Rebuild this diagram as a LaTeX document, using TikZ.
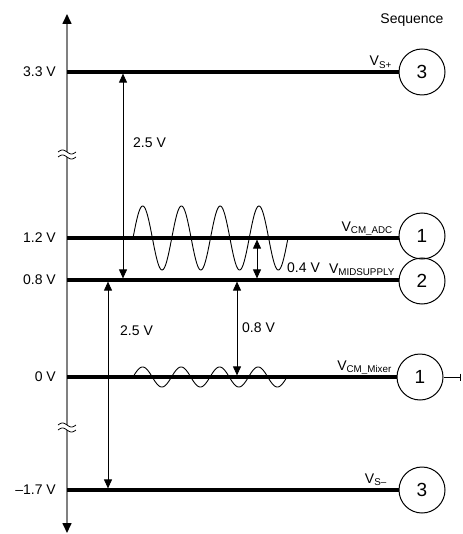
\documentclass[tikz,border=0pt]{standalone}
\usepackage{fontspec}
\setmainfont{Liberation Sans}
\usetikzlibrary{arrows.meta}
\begin{document}
\begin{tikzpicture}[x=1pt,y=-1pt,
  lvl/.style={line width=3.5pt},
  axisline/.style={draw=gray,line width=1.6pt},
  dim/.style={line width=0.9pt,shorten <=1.6pt,shorten >=1.6pt,
    {Triangle[length=9pt,width=8pt]}-{Triangle[length=9pt,width=8pt]}},
  seq/.style={circle,draw,line width=1pt,minimum size=46pt,inner sep=0pt,
    font=\fontsize{19}{19}\selectfont},
  lab/.style={font=\fontsize{14}{16}\selectfont,inner sep=0pt},
  wave/.style={line width=0.9pt,smooth},
  brk/.style={line width=0.8pt}
]
\useasboundingbox (0,0) rectangle (462,534);

% vertical axis
\coordinate (axtop) at (67,14);
\coordinate (axbot) at (67,533);
\draw[axisline,{Triangle[length=10pt,width=9pt,color=black]}-{Triangle[length=10pt,width=9pt,color=black]}] (axbot) -- (axtop);

% break marks
\fill[white] (60,152) rectangle (74,157);
\fill[white] (60,425) rectangle (74,430);
\foreach \yy in {152,157,425,430}
  \draw[brk] plot[domain=58:76,samples=40,smooth] (\x,{\yy-2*sin(20*(\x-58))});

% axis anchor coordinates
\coordinate (a33) at (67,72);
\coordinate (a12) at (67,238);
\coordinate (a08) at (67,280);
\coordinate (a00) at (67,377);
\coordinate (am17) at (67,490);

% sequence circles
\node[seq] (c3a) at (422,72) {3};
\node[seq] (c1a) at (422,236) {1};
\node[seq] (c2) at (422,281) {2};
\node[seq] (c1b) at (420,377) {1};
\node[seq] (c3b) at (422,490) {3};
\node[lab] (seqlab) at (412,20) {Sequence};

% waves (under the level lines)
\draw[wave] plot[domain=133:288,samples=300] (\x,{238-32*sin(9.2903*(\x-133))});
\draw[wave] plot[domain=133:287,samples=300] (\x,{377-10*sin(9.3506*(\x-133))});

% level lines
\draw[lvl] (a33) -- (c3a.west);
\draw[lvl] (a12) -- (c1a.west |- a12);
\draw[lvl] (a08) -- (c2.west |- a08);
\draw[lvl] (a00) -- (c1b.west);
\draw[lvl] (am17) -- (c3b.west);

% mixer output stub
\coordinate (mixend) at (461,377);
\draw[line width=1pt,-{Bar[width=7pt,line width=1.5pt]}] (c1b.east) -- (mixend);

% level labels
\node[lab,anchor=east] (l33) at (56,72) {3.3 V};
\node[lab,anchor=east] (l12) at (56,238) {1.2 V};
\node[lab,anchor=east] (l08) at (56,280) {0.8 V};
\node[lab,anchor=east] (l00) at (56,377) {0 V};
\node[lab,anchor=east] (lm17) at (56,490) {–1.7 V};

% signal names
\node[lab,anchor=base east] (nsp) at (392,66) {V\textsubscript{S+}};
\node[lab,anchor=base east] (nadc) at (393,231) {V\textsubscript{CM\_ADC}};
\node[lab,anchor=base east] (nmid) at (395,273) {V\textsubscript{MIDSUPPLY}};
\node[lab,anchor=base east] (nmix) at (392,370) {V\textsubscript{CM\_Mixer}};
\node[lab,anchor=base east] (nsm) at (387,483) {V\textsubscript{S–}};

% dimension arrows
\coordinate (d1t) at (123,72);   \coordinate (d1b) at (123,280);
\coordinate (d2t) at (108,280);  \coordinate (d2b) at (108,490);
\coordinate (d3t) at (257,238);  \coordinate (d3b) at (257,280);
\coordinate (d4t) at (237,280);  \coordinate (d4b) at (237,377);
\draw[dim] (d1t) -- (d1b);
\draw[dim] (d2t) -- (d2b);
\draw[dim] (d3t) -- (d3b);
\draw[dim] (d4t) -- (d4b);

\node[lab,anchor=west] (t1) at (133,143) {2.5 V};
\node[lab,anchor=west] (t2) at (120,331) {2.5 V};
\node[lab,anchor=base west] (t3) at (287,272) {0.4 V};
\node[lab,anchor=west] (t4) at (242,328) {0.8 V};
\end{tikzpicture}
\end{document}
